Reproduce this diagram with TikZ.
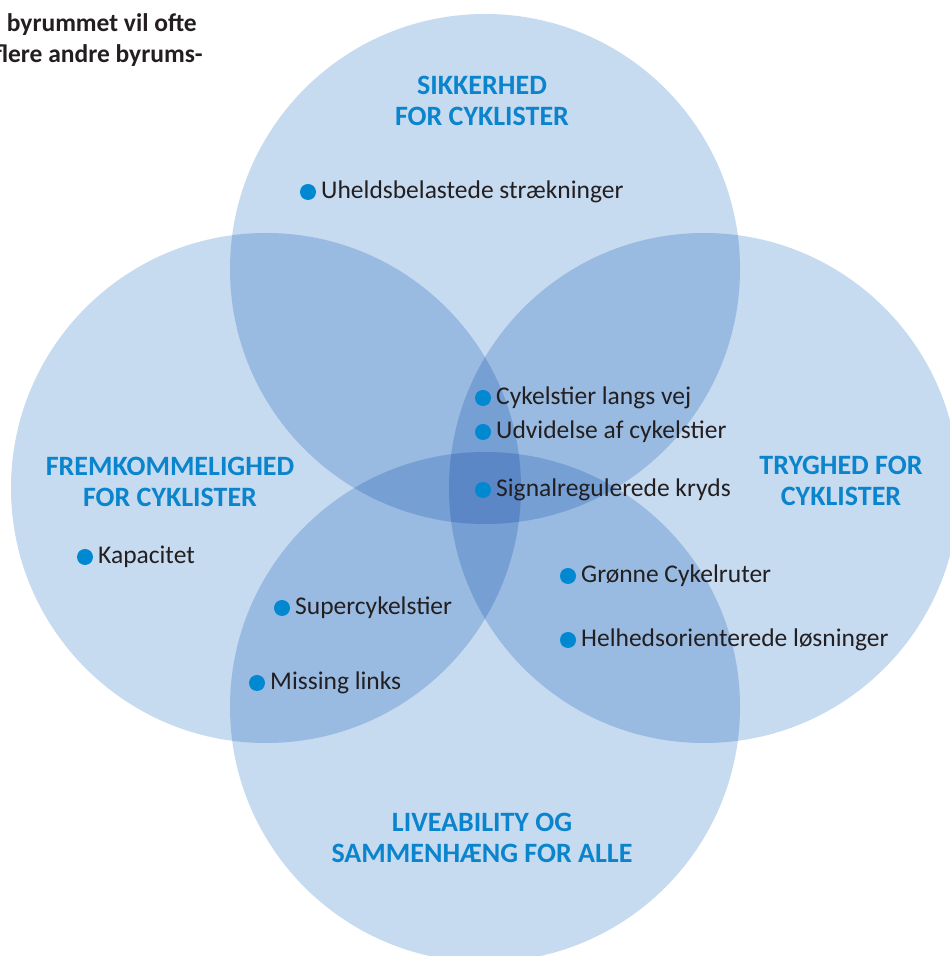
\documentclass[tikz,border=0pt]{standalone}
\usepackage{fontspec}
\setmainfont{Carlito}
\definecolor{vennblaa}{HTML}{C6DAF0}
\definecolor{titelblaa}{HTML}{0A84CC}
\definecolor{prikblaa}{HTML}{0088D0}
\definecolor{tekstgraa}{HTML}{231F20}
\tikzset{
	venn/.style={fill=vennblaa, blend mode=multiply},
	titel/.style={font=\bfseries\fontsize{28}{31}\selectfont, text=titelblaa, align=center, inner sep=0pt},
	hjoerne/.style={font=\bfseries\fontsize{25.5}{31}\selectfont, text=tekstgraa, inner sep=0pt, anchor=base east},
	prik/.style={fill=prikblaa},
	punkt/.style={font=\fontsize{25.5}{30}\selectfont, text=tekstgraa, anchor=base west, inner sep=0pt, xshift=13pt, yshift=-7pt},
}
\begin{document}
\begin{tikzpicture}[x=1pt,y=1pt]
	\path[use as bounding box, fill=white] (0,0) rectangle (950,956);
	% de fire cirkler
	\coordinate (sikkerhed) at (485,687);
	\coordinate (fremkommelighed) at (266,468);
	\coordinate (tryghed) at (704,468);
	\coordinate (liveability) at (485,249);
	\foreach \c in {sikkerhed,fremkommelighed,tryghed,liveability}{
		\fill[venn] (\c) circle (255);}
	% overskrifter
	\node[titel] (t-sikkerhed) at (482,855) {SIKKERHED\\FOR CYKLISTER};
	\node[titel] (t-fremkommelighed) at (170,474.5) {FREMKOMMELIGHED\\FOR CYKLISTER};
	\node[titel] (t-tryghed) at (841,475) {TRYGHED FOR\\CYKLISTER};
	\node[titel] (t-liveability) at (482,118.5) {LIVEABILITY OG\\SAMMENHÆNG FOR ALLE};
	% tekst i hjoernet
	\node[hjoerne] (intro1) at (197,924) {byrummet vil ofte};
	\node[hjoerne] (intro2) at (203,893) {flere andre byrums-};
	% punkter
	\foreach \x/\y/\tekst [count=\i] in {308/764/Uheldsbelastede strækninger,
		483/558/Cykelstier langs vej, 483/524/Udvidelse af cykelstier,
		483/466/Signalregulerede kryds, 85/399/Kapacitet,
		282/348/Supercykelstier, 257/273/Missing links,
		568/380/Grønne Cykelruter, 568/316/Helhedsorienterede løsninger}{
		\fill[prik] (\x,\y) circle (8) node[punkt] (punkt\i) {\tekst};}
\end{tikzpicture}
\end{document}
